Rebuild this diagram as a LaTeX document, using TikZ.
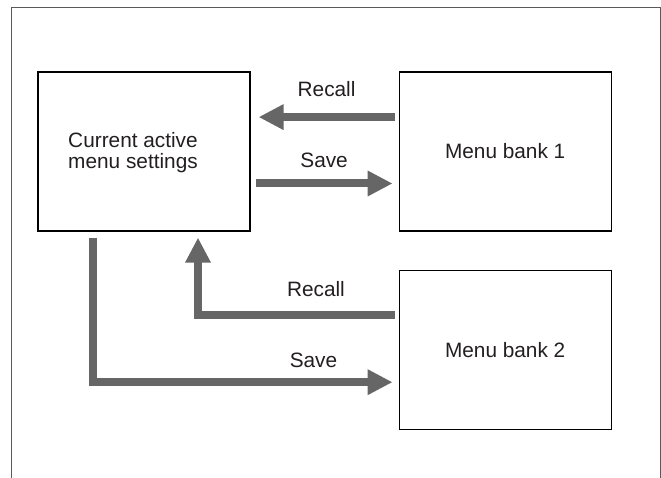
\documentclass[tikz,border=0pt]{standalone}
\usepackage{fontspec}
\setmainfont{Liberation Sans}
\usetikzlibrary{positioning, arrows.meta, calc}

\definecolor{arrowgray}{HTML}{666666}
\definecolor{framegray}{HTML}{5A5A5A}
\definecolor{textdark}{HTML}{231F20}

\begin{document}
\begin{tikzpicture}[
    menubox/.style={
        draw,
        rectangle,
        line width=0.85pt,
        minimum width=5.3cm,
        minimum height=3.975cm,
        align=center,
        text=textdark,
        font=\fontsize{14.8}{15}\selectfont
    },
    boxtext/.style={
        align=center,
        inner sep=0pt,
        text=textdark,
        font=\fontsize{14.8}{15}\selectfont
    },
    bigarrow/.style={
        -{Triangle[length=0.625cm, width=0.6cm]},
        line width=0.2cm,
        arrowgray,
        line join=miter
    },
    arrowlabel/.style={
        inner sep=0pt,
        text=textdark,
        font=\fontsize{14.8}{15}\selectfont
    },
    frameline/.style={
        draw=framegray,
        line width=0.7pt
    }
]

    \useasboundingbox (-3.6,-8.1625) rectangle (12.925,3.7875);

    % Outer frame (open at the bottom)
    \coordinate (frameBL) at (-3.325,-8.1625);
    \coordinate (frameTR) at (12.9,3.6125);
    \draw[frameline] (frameBL) |- (frameTR) -- (frameTR |- frameBL);

    % Nodes
    \node[menubox] (current) at (0,0) {};
    \node[boxtext] (currentText) at ([shift={(-0.275,-0.03)}]current.center) {Current active\\menu settings};
    \node[menubox, right=3.7cm of current] (bankOne) {Menu bank 1};
    \node[menubox, below=0.95cm of bankOne] (bankTwo) {Menu bank 2};

    % Bank 1 arrows
    \draw[bigarrow] ([shift={(-0.1,0.86)}]bankOne.west) -- node[arrowlabel, above=0.41cm] {Recall} ([shift={(0.2,0.86)}]current.east);
    \draw[bigarrow] ([shift={(0.125,-0.8)}]current.east) -- node[arrowlabel, above=0.3cm] {Save} ([shift={(-0.15,-0.8)}]bankOne.west);

    % Bank 2 arrows
    \draw[bigarrow] ([shift={(-0.1,0.875)}]bankTwo.west) -| node[arrowlabel, pos=0.2, above=0.36cm] {Recall} ([shift={(1.35,-0.15)}]current.south);
    \draw[bigarrow] ([shift={(-1.275,-0.15)}]current.south) |- node[arrowlabel, pos=0.868, above=0.27cm] {Save} ([shift={(-0.15,-0.8125)}]bankTwo.west);

\end{tikzpicture}
\end{document}
